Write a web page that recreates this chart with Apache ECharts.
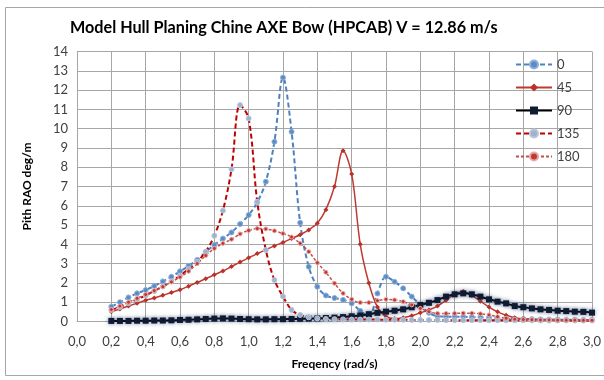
<!DOCTYPE html>
<html>
<head>
<meta charset="utf-8">
<script src="https://cdn.jsdelivr.net/npm/echarts@6/dist/echarts.min.js"></script>
<style>
  html, body { margin: 0; padding: 0; background: #fff; }
  #chart { width: 604px; height: 380px; }
</style>
</head>
<body>
<div id="chart"></div>
<script>
// frequency samples (rad/s)
const freq = [0.20, 0.25, 0.30, 0.35, 0.40, 0.45, 0.50, 0.55, 0.60, 0.65, 0.70, 0.75, 0.80, 0.85, 0.90, 0.95,
  1.00, 1.05, 1.10, 1.15, 1.20, 1.25, 1.30, 1.35, 1.40, 1.45, 1.50, 1.55, 1.60, 1.65, 1.70, 1.75,
  1.80, 1.85, 1.90, 1.95, 2.00, 2.05, 2.10, 2.15, 2.20, 2.25, 2.30, 2.35, 2.40, 2.45, 2.50, 2.55,
  2.60, 2.65, 2.70, 2.75, 2.80, 2.85, 2.90, 2.95, 3.00];

// pitch RAO per heading
const rao0 = [0.77, 1.0, 1.25, 1.46, 1.63, 1.84, 2.08, 2.32, 2.6, 2.88, 3.19, 3.6, 3.97, 4.3, 4.62, 5.05,
  5.52, 6.18, 7.25, 9.32, 12.65, 9.84, 5.12, 2.84, 1.8, 1.35, 1.22, 1.12, 0.94, 0.55, 0.25, 1.45,
  2.32, 2.06, 1.72, 1.29, 0.86, 0.45, 0.28, 0.25, 0.24, 0.24, 0.23, 0.22, 0.2, 0.18, 0.16, 0.14,
  0.13, 0.12, 0.11, 0.1, 0.1, 0.09, 0.09, 0.08, 0.08];
const rao45 = [0.5, 0.65, 0.8, 0.95, 1.1, 1.22, 1.36, 1.5, 1.65, 1.83, 2.02, 2.22, 2.42, 2.62, 2.85, 3.08,
  3.3, 3.52, 3.72, 3.92, 4.1, 4.3, 4.5, 4.75, 5.1, 5.8, 7.0, 8.85, 7.65, 4.0, 2.0, 0.75,
  0.25, 0.15, 0.2, 0.3, 0.45, 0.6, 0.8, 1.1, 1.42, 1.55, 1.35, 1.05, 0.75, 0.5, 0.32, 0.2,
  0.14, 0.1, 0.08, 0.07, 0.06, 0.06, 0.05, 0.05, 0.05];
const rao90 = [0.03, 0.03, 0.03, 0.04, 0.04, 0.05, 0.05, 0.06, 0.08, 0.09, 0.11, 0.13, 0.15, 0.16, 0.15, 0.13,
  0.12, 0.11, 0.11, 0.12, 0.12, 0.13, 0.14, 0.15, 0.16, 0.18, 0.2, 0.23, 0.27, 0.31, 0.38, 0.45,
  0.51, 0.56, 0.63, 0.74, 0.86, 0.97, 1.11, 1.29, 1.41, 1.46, 1.41, 1.29, 1.15, 1.03, 0.94, 0.8,
  0.74, 0.68, 0.63, 0.6, 0.56, 0.54, 0.51, 0.5, 0.46];
const rao135 = [0.6, 0.75, 0.95, 1.15, 1.35, 1.58, 1.82, 2.08, 2.38, 2.72, 3.1, 3.62, 4.45, 5.75, 7.9, 11.22,
  10.53, 6.21, 3.71, 2.15, 1.3, 0.6, 0.34, 0.22, 0.16, 0.13, 0.12, 0.11, 0.1, 0.1, 0.1, 0.1,
  0.09, 0.09, 0.09, 0.08, 0.08, 0.08, 0.08, 0.07, 0.07, 0.07, 0.07, 0.07, 0.06, 0.06, 0.06, 0.06,
  0.06, 0.06, 0.05, 0.05, 0.05, 0.05, 0.05, 0.05, 0.05];
const rao180 = [0.62, 0.8, 1.0, 1.2, 1.4, 1.6, 1.8, 2.05, 2.3, 2.6, 3.0, 3.42, 3.79, 4.05, 4.26, 4.54,
  4.72, 4.82, 4.8, 4.7, 4.56, 4.38, 4.05, 3.62, 3.05, 2.55, 1.98, 1.46, 1.15, 0.98, 0.98, 1.08,
  1.15, 1.12, 1.03, 0.86, 0.68, 0.51, 0.42, 0.42, 0.42, 0.43, 0.43, 0.4, 0.34, 0.25, 0.17, 0.12,
  0.1, 0.09, 0.08, 0.08, 0.07, 0.07, 0.07, 0.06, 0.06];

const headings = ['0', '45', '90', '135', '180'];

const pairs = vals => freq.map((f, i) => [f, vals[i]]);
const font = 'Lato, "Open Sans", sans-serif';

const chart = echarts.init(document.getElementById('chart'));

const option = {
  animation: false,
  textStyle: { fontFamily: font },
  graphic: [{
    type: 'rect',
    shape: { x: 5.5, y: 7.5, width: 640, height: 368 },
    style: { fill: 'none', stroke: '#a6a6a6', lineWidth: 1 },
    silent: true,
  }],
  title: {
    text: 'Model Hull Planing Chine AXE Bow (HPCAB) V = 12.86 m/s',
    left: 70,
    top: 20,
    padding: 0,
    textStyle: { fontFamily: font, fontSize: 16.2, fontWeight: 'bold', color: '#000' },
  },
  legend: {
    data: headings,
    orient: 'vertical',
    left: 510,
    top: 53,
    itemWidth: 36,
    itemHeight: 10,
    itemGap: 10,
    textStyle: { fontFamily: font, fontSize: 13, color: '#404040' },
  },
  grid: { left: 77, right: 11, top: 51.5, bottom: 58.5 },
  xAxis: {
    type: 'value',
    min: 0,
    max: 3,
    interval: 0.2,
    name: 'Freqency (rad/s)',
    nameLocation: 'middle',
    nameGap: 37,
    nameTextStyle: { fontFamily: font, fontSize: 12, fontWeight: 'bold', color: '#000' },
    axisLine: { lineStyle: { color: '#a6a6a6' } },
    axisTick: { show: false },
    axisLabel: {
      margin: 14,
      fontSize: 13,
      color: '#404040',
      formatter: v => v.toFixed(1).replace('.', ','),
    },
    splitLine: { show: true, lineStyle: { color: '#a6a6a6' } },
  },
  yAxis: {
    type: 'value',
    min: 0,
    max: 14,
    interval: 1,
    name: 'Pith RAO deg/m',
    nameLocation: 'middle',
    nameGap: 44,
    nameTextStyle: { fontFamily: font, fontSize: 12, fontWeight: 'bold', color: '#000' },
    axisLine: { show: true, lineStyle: { color: '#a6a6a6' } },
    axisTick: { show: false },
    axisLabel: { margin: 9, fontSize: 13, color: '#404040' },
    splitLine: { lineStyle: { color: '#a6a6a6' } },
  },
  series: [
    {
      name: '0', type: 'line', smooth: 0.35, data: pairs(rao0),
      symbol: 'circle', symbolSize: 5,
      lineStyle: { color: '#4f81bd', width: 2, type: [5, 3] },
      itemStyle: { color: '#5b8cc6', borderColor: '#8fb0d8', borderWidth: 1 },
    },
    {
      name: '45', type: 'line', smooth: 0.35, data: pairs(rao45),
      symbol: 'diamond', symbolSize: 5,
      lineStyle: { color: '#c0392f', width: 1.5 },
      itemStyle: { color: '#b8312b' },
    },
    {
      name: '90', type: 'line', smooth: 0.35, data: pairs(rao90),
      symbol: 'rect', symbolSize: 6,
      lineStyle: { color: '#000', width: 2, shadowColor: 'rgba(31,56,100,0.5)', shadowBlur: 4 },
      itemStyle: { color: '#0f1b33', shadowColor: 'rgba(31,56,100,0.6)', shadowBlur: 4 },
    },
    {
      name: '135', type: 'line', smooth: 0.35, data: pairs(rao135),
      symbol: 'circle', symbolSize: 5,
      lineStyle: { color: '#c00000', width: 2, type: [5, 3] },
      itemStyle: { color: '#9fb3cc', borderColor: '#b7c6da', borderWidth: 1 },
    },
    {
      name: '180', type: 'line', smooth: 0.35, data: pairs(rao180),
      symbol: 'circle', symbolSize: 4,
      lineStyle: { color: '#c0504d', width: 1.5, type: [3, 2] },
      itemStyle: { color: '#c0392f', borderColor: '#e7a9a8', borderWidth: 1 },
    },
  ],
};

chart.setOption(option);
window.addEventListener('resize', chart.resize);
</script>
</body>
</html>
